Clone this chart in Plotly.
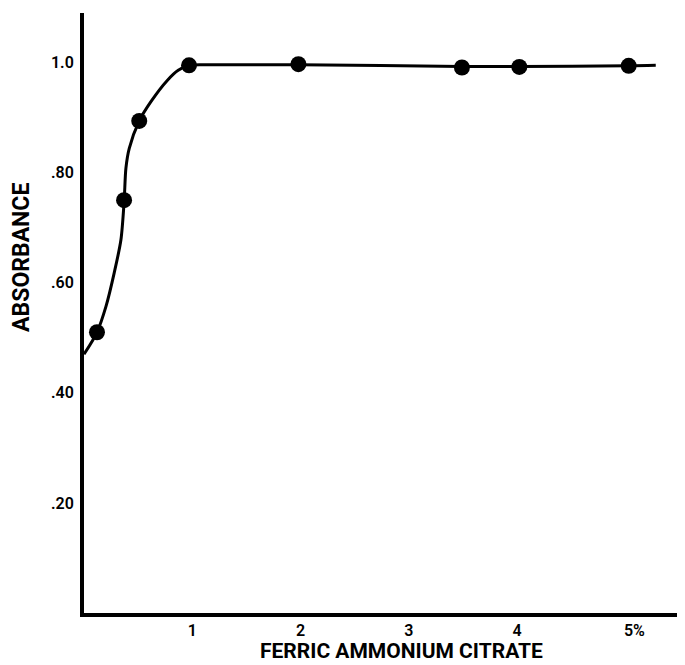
import plotly.graph_objects as go

# Measured data points (concentration %, absorbance)
conc = [0.12, 0.37, 0.51, 0.97, 1.98, 3.49, 4.02, 5.03]
absorb = [0.51, 0.75, 0.894, 0.995, 0.997, 0.991, 0.992, 0.994]

# Hand-drawn fitted curve
curve_x = [0.0, 0.12, 0.203, 0.279, 0.341, 0.371, 0.387, 0.418, 0.51, 0.618, 0.771, 0.87, 0.97, 1.15, 1.5, 1.98, 3.49, 4.02, 5.03, 5.28]
curve_y = [0.47, 0.51, 0.557, 0.618, 0.678, 0.749, 0.808, 0.844, 0.894, 0.929, 0.968, 0.986, 0.995, 0.996, 0.996, 0.996, 0.993, 0.993, 0.994, 0.995]

x_ticks = [1, 2, 3, 4, 5]
x_tick_text = ["1", "2", "3", "4", "\u2007\u20075%"]
y_ticks = [0.2, 0.4, 0.6, 0.8, 1.0]
y_tick_text = [".20", ".40", ".60", ".80", "1.0"]

FONT = "Roboto"

fig = go.Figure()
fig.add_trace(go.Scatter(
    x=curve_x, y=curve_y, mode="lines",
    line=dict(color="black", width=3, shape="spline", smoothing=0.8),
    hoverinfo="skip", showlegend=False,
))
fig.add_trace(go.Scatter(
    x=conc, y=absorb, mode="markers",
    marker=dict(color="black", size=16),
    showlegend=False,
))

# page body has an 8px margin, so the figure is drawn 8px smaller
fig.update_layout(
    width=677, height=657,
    margin=dict(l=76, r=0, t=5, b=52),
    paper_bgcolor="white", plot_bgcolor="white",
    font=dict(family=FONT, color="black"),
)
fig.update_xaxes(
    range=[0, 5.55], showgrid=False, zeroline=False,
    showline=True, linecolor="black", linewidth=4,
    tickmode="array", tickvals=x_ticks, ticktext=x_tick_text,
    ticks="", tickfont=dict(family=FONT, size=16, weight=600),
)
fig.update_yaxes(
    range=[0, 1.09], showgrid=False, zeroline=False,
    showline=True, linecolor="black", linewidth=4,
    tickmode="array", tickvals=y_ticks, ticktext=y_tick_text,
    ticks="", ticklabelstandoff=3,
    tickfont=dict(family=FONT, size=16, weight=600),
)

fig.add_annotation(
    text="ABSORBANCE", textangle=-90,
    xref="paper", yref="paper", x=-0.103, y=0.592,
    xanchor="center", yanchor="middle", showarrow=False,
    font=dict(family=FONT, size=23, weight="bold"),
)
fig.add_annotation(
    text="FERRIC AMMONIUM CITRATE",
    xref="paper", yref="paper", x=0.529, y=-0.064,
    xanchor="center", yanchor="middle", showarrow=False,
    font=dict(family=FONT, size=21, weight="bold"),
)

fig.write_html("out.html")
